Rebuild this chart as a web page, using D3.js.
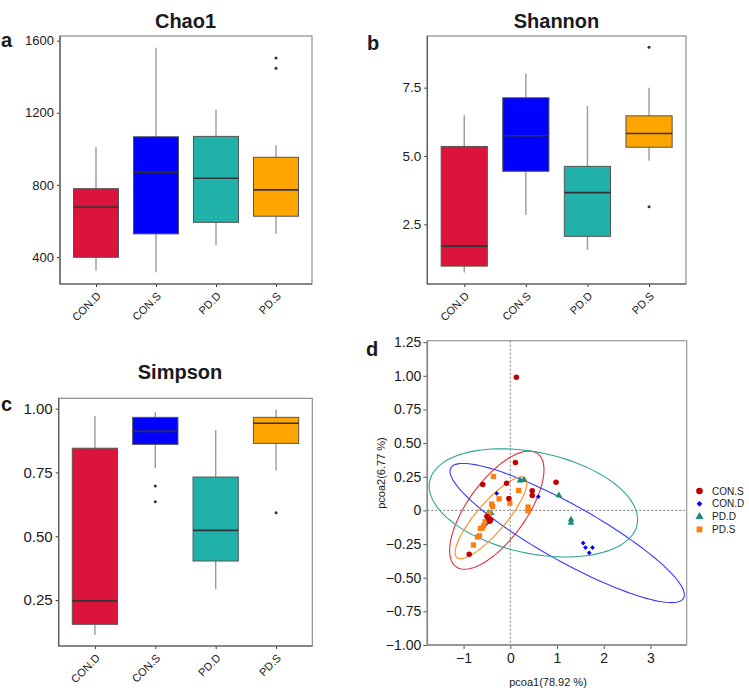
<!DOCTYPE html>
<html><head><meta charset="utf-8">
<script src="https://cdn.jsdelivr.net/npm/d3@7"></script>
<style>
body{margin:0;background:#fff}
text{font-family:"Liberation Sans",Arial,Helvetica,sans-serif;fill:#1a1a1a}
</style>
</head><body><svg id="chart" width="749" height="690"></svg>
<script>
// ---------------- DATA ----------------
const categories = ["CON.D", "CON.S", "PD.D", "PD.S"];
const boxColors = ["#DC143C", "#0000FF", "#20B2AA", "#FFA500"];

// box stats per category: [lower whisker, Q1, median, Q3, upper whisker]
const chao1Stats = [[324, 398, 677, 779, 1009], [315, 528, 870, 1067, 1561], [467, 592, 837, 1069, 1215], [529, 626, 772, 953, 1020]];
const chao1Outliers = [[], [], [], [1504, 1447]];
const chao1Ticks = [400, 800, 1200, 1600];

const shannonStats = [[0.74, 0.97, 1.70, 5.35, 6.49], [2.85, 4.44, 5.74, 7.13, 8.02], [1.57, 2.06, 3.66, 4.62, 6.83], [4.83, 5.32, 5.82, 6.47, 7.50]];
const shannonOutliers = [[], [], [], [8.98, 3.14]];
const shannonTicks = [2.5, 5.0, 7.5];

const simpsonStats = [[0.114, 0.155, 0.247, 0.845, 0.971], [0.767, 0.860, 0.911, 0.966, 0.987], [0.293, 0.403, 0.523, 0.732, 0.916], [0.758, 0.864, 0.943, 0.966, 0.996]];
const simpsonOutliers = [[], [0.697, 0.635], [], [0.592]];
const simpsonTicks = [0.25, 0.50, 0.75, 1.00];

// PCoA
const pcoaGroups = ["CON.S", "CON.D", "PD.D", "PD.S"];
const pointColors = ["#C00000", "#0000FF", "#1B8A7A", "#FF7F0E"];
const ellipseColors = ["#E0303A", "#3A3AFF", "#2FA595", "#FF8C1A"];
const conSPoints = [[0.13, 0.99], [0.11, 0.356], [-0.59, 0.192], [-0.08, 0.202], [-0.03, 0.088], [0.98, 0.21], [0.47, 0.146], [0.47, 0.111], [-0.88, -0.326], [-0.50, -0.045], [-0.46, -0.06], [-0.42, -0.072], [-0.44, -0.08]];
const conDPoints = [[-0.29, 0.126], [0.60, 0.102], [-0.51, -0.098], [1.56, -0.243], [1.61, -0.276], [1.69, -0.315], [1.76, -0.276]];
const pdDPoints = [[0.21, 0.222], [0.29, 0.226], [1.04, 0.112], [1.30, -0.068], [1.30, -0.092], [-0.47, -0.018], [-0.41, -0.02]];
const pdSPoints = [[-0.36, 0.252], [-0.24, 0.086], [-0.40, 0.047], [-0.38, 0.029], [-0.01, 0.054], [0.18, 0.148], [0.38, 0.025], [0.38, -0.003], [-0.45, -0.022], [-0.54, -0.084], [-0.57, -0.114], [-0.60, -0.131], [-0.64, -0.134], [-0.66, -0.189], [-0.70, -0.198], [-0.79, -0.257]];
// ellipse per group: [centre x, centre y, half-width x, half-height y, correlation]
const ellipseParams = [[-0.289, 0.002, 1.01, 0.439, 0.683], [1.218, -0.168, 2.509, 0.517, -0.888], [0.495, 0.056, 2.231, 0.402, -0.31], [-0.413, -0.055, 0.768, 0.304, 0.85]];
const pcoaXTicks = [-1, 0, 1, 2, 3];
const pcoaYTicks = [-1.00, -0.75, -0.50, -0.25, 0, 0.25, 0.50, 0.75, 1.00, 1.25];

// ---------------- DRAW ----------------
const svg = d3.select("#chart");

function boxPanel(o) {
  const g = svg.append("g");
  const x = d3.scalePoint().domain(categories).range([o.x0, o.x1]).padding(0.6);
  const y = d3.scaleLinear().domain(o.domain).range([o.y1, o.y0]);
  const bw = x.step() * 0.75;

  // axes
  const ya = g.append("g").attr("transform", `translate(${o.x0},0)`)
    .call(d3.axisLeft(y).tickValues(o.ticks).tickFormat(o.fmt).tickSize(3).tickPadding(3));
  ya.select(".domain").remove();
  ya.selectAll("line").attr("stroke", "#333");
  ya.selectAll("text").style("font-size", o.tickFont + "px").attr("fill", "#1a1a1a");

  const xa = g.append("g").attr("transform", `translate(0,${o.y1})`)
    .call(d3.axisBottom(x).tickSize(3));
  xa.select(".domain").remove();
  xa.selectAll("line").attr("stroke", "#333");
  xa.selectAll("text").remove();
  categories.forEach(c => {
    g.append("text").attr("transform", `translate(${x(c) + 3},${o.y1 + 10}) rotate(-45)`)
      .attr("text-anchor", "end").attr("dy", "0.35em").style("font-size", "11px").text(c);
  });

  // panel border
  g.append("rect").attr("x", o.x0).attr("y", o.y0).attr("width", o.x1 - o.x0).attr("height", o.y1 - o.y0)
    .attr("fill", "none").attr("stroke", "#8c8c8c").attr("stroke-width", 1.2);
  g.append("path").attr("d", `M${o.x0},${o.y0}V${o.y1}H${o.x1}`).attr("fill", "none").attr("stroke", "#555").attr("stroke-width", 1.2);

  // boxes
  categories.forEach((c, i) => {
    const s = o.stats[i];
    const cx = x(c);
    g.append("line").attr("x1", cx).attr("x2", cx).attr("y1", y(s[0])).attr("y2", y(s[4]))
      .attr("stroke", "#9a9a9a").attr("stroke-width", 1.4);
    g.append("rect").attr("x", cx - bw / 2).attr("width", bw).attr("y", y(s[3])).attr("height", y(s[1]) - y(s[3]))
      .attr("fill", boxColors[i]).attr("stroke", "#555").attr("stroke-width", 1);
    g.append("line").attr("x1", cx - bw / 2).attr("x2", cx + bw / 2).attr("y1", y(s[2])).attr("y2", y(s[2]))
      .attr("stroke", "#333").attr("stroke-width", 1.6);
    o.outliers[i].forEach(v => {
      g.append("circle").attr("cx", cx).attr("cy", y(v)).attr("r", 1.5).attr("fill", "#333");
    });
  });

  g.append("text").attr("x", o.titleX).attr("y", o.titleY).attr("text-anchor", "middle")
    .style("font-size", "20px").style("font-weight", "bold").text(o.title);
  g.append("text").attr("x", o.letterX).attr("y", o.letterY)
    .style("font-size", "20px").style("font-weight", "bold").text(o.letter);
}

boxPanel({x0: 60, x1: 312, y0: 36, y1: 284, domain: [250, 1626], ticks: chao1Ticks, fmt: d3.format("d"),
  stats: chao1Stats, outliers: chao1Outliers, title: "Chao1", titleX: 185.5, titleY: 28, letter: "a", letterX: 1, letterY: 47, tickFont: 13});
boxPanel({x0: 427.3, x1: 686, y0: 36, y1: 284, domain: [0.316, 9.39], ticks: shannonTicks, fmt: d3.format(".1f"),
  stats: shannonStats, outliers: shannonOutliers, title: "Shannon", titleX: 556.5, titleY: 28, letter: "b", letterX: 367, letterY: 50, tickFont: 13.5});
boxPanel({x0: 58.7, x1: 312.3, y0: 398.3, y1: 646, domain: [0.07, 1.0406], ticks: simpsonTicks, fmt: d3.format(".2f"),
  stats: simpsonStats, outliers: simpsonOutliers, title: "Simpson", titleX: 180, titleY: 379, letter: "c", letterX: 1, letterY: 411, tickFont: 15});

// ---- PCoA panel ----
(function () {
  const x0 = 427.3, x1 = 686.7, y0 = 340.7, y1 = 645;
  const g = svg.append("g");
  const x = d3.scaleLinear().domain([-1.777, 3.777]).range([x0, x1]);
  const y = d3.scaleLinear().domain([-1.0, 1.261]).range([y1, y0]);

  const ya = g.append("g").attr("transform", `translate(${x0},0)`)
    .call(d3.axisLeft(y).tickValues(pcoaYTicks).tickFormat(v => v === 0 ? "0" : d3.format(".2f")(v)).tickSize(4).tickPadding(2));
  ya.select(".domain").remove();
  ya.selectAll("line").attr("stroke", "#555");
  ya.selectAll("text").style("font-size", "14px");
  const xa = g.append("g").attr("transform", `translate(0,${y1})`)
    .call(d3.axisBottom(x).tickValues(pcoaXTicks).tickFormat(d3.format("d")).tickSize(4).tickPadding(4));
  xa.select(".domain").remove();
  xa.selectAll("line").attr("stroke", "#555");
  xa.selectAll("text").style("font-size", "14px");

  // dashed zero lines
  g.append("line").attr("x1", x(0)).attr("x2", x(0)).attr("y1", y0).attr("y2", y1)
    .attr("stroke", "#555").attr("stroke-width", 0.8).attr("stroke-dasharray", "2,2");
  g.append("line").attr("x1", x0).attr("x2", x1).attr("y1", y(0)).attr("y2", y(0))
    .attr("stroke", "#555").attr("stroke-width", 0.8).attr("stroke-dasharray", "2,2");

  // ellipses
  const clip = svg.append("clipPath").attr("id", "dclip").append("rect")
    .attr("x", x0).attr("y", y0).attr("width", x1 - x0).attr("height", y1 - y0);
  const eg = g.append("g").attr("clip-path", "url(#dclip)");
  const line = d3.line().x(d => x(d[0])).y(d => y(d[1]));
  ellipseParams.forEach((e, i) => {
    const pts = d3.range(0, 361, 3).map(a => {
      const t = a * Math.PI / 180;
      return [e[0] + e[2] * Math.cos(t), e[1] + e[3] * (e[4] * Math.cos(t) + Math.sqrt(1 - e[4] * e[4]) * Math.sin(t))];
    });
    eg.append("path").attr("d", line(pts)).attr("fill", "none").attr("stroke", ellipseColors[i]).attr("stroke-width", 1.1);
  });

  // points
  const symbols = [d3.symbolCircle, d3.symbolSquare, d3.symbolTriangle, d3.symbolSquare];
  const sizes = [24, 11, 20, 28];
  const rot = [0, 45, 0, 0];
  const sets = [conSPoints, conDPoints, pdDPoints, pdSPoints];
  const drawOrder = [1, 2, 3, 0];
  drawOrder.forEach(i => {
    sets[i].forEach(p => {
      g.append("path").attr("d", d3.symbol().type(symbols[i]).size(sizes[i])())
        .attr("transform", `translate(${x(p[0])},${y(p[1])}) rotate(${rot[i]})`)
        .attr("fill", pointColors[i]);
    });
  });

  // border
  g.append("rect").attr("x", x0).attr("y", y0).attr("width", x1 - x0).attr("height", y1 - y0)
    .attr("fill", "none").attr("stroke", "#999").attr("stroke-width", 1.2);
  g.append("path").attr("d", `M${x0},${y0}V${y1}H${x1}`).attr("fill", "none").attr("stroke", "#888").attr("stroke-width", 1.6);

  // labels
  g.append("text").attr("x", 548).attr("y", 685.5).attr("text-anchor", "middle").style("font-size", "11px").attr("fill", "#333").text("pcoa1(78.92 %)");
  g.append("text").attr("transform", `translate(385,473) rotate(-90)`).attr("text-anchor", "middle").style("font-size", "11px").attr("fill", "#333").text("pcoa2(6.77 %)");
  g.append("text").attr("x", 366).attr("y", 356).style("font-size", "20px").style("font-weight", "bold").text("d");

  // legend
  const legSizes = [34, 16, 28, 34];
  pcoaGroups.forEach((name, i) => {
    const ly = 491 + i * 12.8;
    g.append("path").attr("d", d3.symbol().type(symbols[i]).size(legSizes[i])())
      .attr("transform", `translate(699.5,${ly}) rotate(${rot[i]})`).attr("fill", pointColors[i]);
    g.append("text").attr("x", 712).attr("y", ly).attr("dy", "0.35em").style("font-size", "10px").text(name);
  });
})();
</script>
</body></html>
